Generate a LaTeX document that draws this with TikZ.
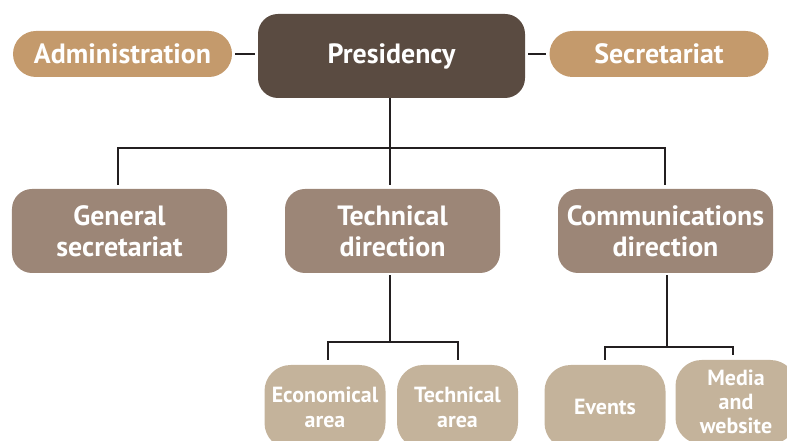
\documentclass[tikz,border=0pt]{standalone}
\usepackage{fontspec}
\setmainfont{PT Sans}
\usetikzlibrary{positioning}
\definecolor{presbrown}{HTML}{5A4B41}
\definecolor{sidetan}{HTML}{C49A6C}
\definecolor{dirbrown}{HTML}{9C8677}
\definecolor{areabeige}{HTML}{C4B39B}
\definecolor{linkblack}{HTML}{231F20}

\begin{document}
\begin{tikzpicture}[x=1bp, y=-1bp,
    unit/.style={rounded corners=20bp, text=white, align=center, inner sep=0pt},
    top/.style={unit, fill=presbrown, minimum width=267bp, minimum height=84bp, font=\bfseries\fontsize{28}{32}\selectfont},
    side/.style={unit, fill=sidetan, rounded corners=23bp, minimum width=219bp, minimum height=46bp, font=\bfseries\fontsize{28}{30}\selectfont},
    direction/.style={unit, fill=dirbrown, minimum width=215bp, minimum height=84bp, font=\bfseries\fontsize{28}{31}\selectfont},
    area/.style={unit, fill=areabeige, rounded corners=26bp, minimum width=121bp, minimum height=84bp, font=\bfseries\fontsize{22}{25}\selectfont},
    link/.style={draw=linkblack, line width=2.2bp}
]
\clip (0,0) rectangle (787,441);

% Top level
\node[top] (pres) at (391.5,56) {Presidency};
\node[side] (admin) at (122.5,54) {Administration};
\node[side] (secr) at (659,54) {Secretariat};

% Directions
\node[direction] (gensec) at (119.5,231) {General\\secretariat};
\node[direction] (techdir) at (392.5,231) {Technical\\direction};
\node[direction] (commdir) at (665.5,231) {Communications\\direction};

% Areas
\node[area] (econ) at (325,407) {Economical\\area};
\node[area] (techarea) at (457.5,407) {Technical\\area};
\node[area] (events) at (605,407) {Events};
\node[area, font=\bfseries\fontsize{22}{24}\selectfont] (media) at (736,402) {Media\\and\\website};

% Connectors
\coordinate (hubtop) at (390,148);
\coordinate (hubtech) at (390,342);
\coordinate (hubcomm) at (667,347);
\draw[link, shorten <=3bp, shorten >=3bp] (admin.east) -- (pres.west |- admin.east);
\draw[link, shorten <=3bp, shorten >=3bp] (pres.east |- secr.west) -- (secr.west);
\draw[link] (pres.south -| hubtop) -- (hubtop);
\draw[link, shorten <=4bp, shorten >=4bp] (gensec.north -| 118,0) |- (hubtop) -| (commdir.north -| 665,0);
\draw[link, shorten >=4bp] (hubtop) -- (techdir.north -| hubtop);
\draw[link, shorten <=2bp] (techdir.south -| hubtech) -- (hubtech);
\draw[link, shorten <=5bp, shorten >=5bp] (econ.north -| 328,0) |- (hubtech) -| (techarea.north -| 458,0);
\draw[link, shorten <=2bp] (commdir.south -| hubcomm) -- (hubcomm);
\draw[link, shorten <=5bp, shorten >=5bp] (events.north) |- (hubcomm) -| (media.north -| 733,0);
\end{tikzpicture}
\end{document}
